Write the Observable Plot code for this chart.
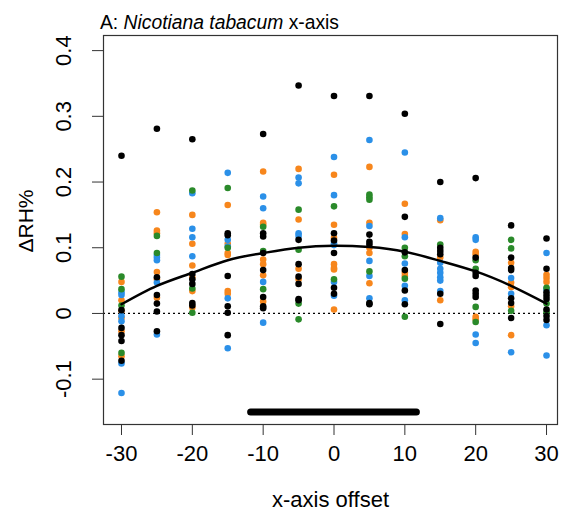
<!DOCTYPE html>
<html>
<head>
<meta charset="utf-8">
<script src="https://cdn.jsdelivr.net/npm/d3@7"></script>
<script src="https://cdn.jsdelivr.net/npm/@observablehq/plot@0.6"></script>
<style>
  html, body { margin: 0; padding: 0; background: #fff; }
  #wrap { position: relative; width: 563px; height: 518px; font-family: "Liberation Sans", Arial, sans-serif; }
  #title { position: absolute; left: 100px; top: 13px; font-size: 19.3px; line-height: 20px; color: #000; white-space: nowrap; }
  #wrap svg { font-family: "Liberation Sans", Arial, sans-serif; }
</style>
</head>
<body>
<div id="wrap">
  <div id="title">A: <i>Nicotiana tabacum</i> x-axis</div>
</div>
<script>
const xOffsets = [-30, -25, -20, -15, -10, -5, 0, 5, 10, 15, 20, 25, 30];

const blackVals = [
  [0.240, 0.005, -0.022, -0.033, -0.042, -0.072],
  [0.281, 0.055, 0.028, 0.015, 0.003, -0.027],
  [0.265, 0.060, 0.052, 0.045, 0.016, 0.012],
  [0.122, 0.119, 0.057, 0.011, 0.001, -0.033],
  [0.273, 0.122, 0.117, 0.092, 0.066, 0.025, 0.011, 0.008],
  [0.347, 0.112, 0.075, 0.056, 0.045, 0.022, 0.020],
  [0.331, 0.122, 0.111, 0.092, 0.039, 0.030],
  [0.331, 0.120, 0.109, 0.105, 0.016, 0.014],
  [0.304, 0.147, 0.093, 0.066, 0.035, 0.014],
  [0.200, 0.100, 0.095, 0.090, 0.030, -0.016],
  [0.206, 0.085, 0.062, 0.057, 0.035, 0.030, 0.025],
  [0.134, 0.085, 0.069, 0.066, 0.023, 0.016, -0.007],
  [0.114, 0.068, 0.032, 0.027, 0.022, 0.006, -0.004, -0.010]
];
const orangeVals = [
  [0.048, 0.020, 0.004, -0.007, -0.027, -0.065],
  [0.154, 0.126, 0.122, 0.063, 0.052, 0.024],
  [0.150, 0.106, 0.073, 0.055, 0.034, 0.009],
  [0.165, 0.106, 0.092, 0.089, 0.034, 0.030],
  [0.216, 0.138, 0.135, 0.082, 0.075, 0.058, 0.018],
  [0.220, 0.143, 0.068, 0.052],
  [0.211, 0.135, 0.115, 0.075, 0.069, 0.067, 0.006],
  [0.223, 0.138, 0.100, 0.092, 0.046],
  [0.167, 0.121, 0.062, 0.057],
  [0.142, 0.085, 0.020],
  [0.094, 0.090, -0.005, -0.009],
  [0.077, 0.047, 0.040, 0.011, -0.033],
  [0.059, 0.054, 0.048]
];
const blueVals = [
  [0.032, 0.028, -0.004, -0.012, -0.076, -0.121],
  [0.089, 0.085, 0.081, 0.047, -0.032],
  [0.183, 0.129, 0.116, 0.087],
  [0.214, 0.112, 0.102, 0.023, -0.053],
  [0.178, 0.160, 0.048, -0.014],
  [0.207, 0.198, 0.122, 0.118],
  [0.238, 0.180, 0.107, 0.104, 0.048, 0.027],
  [0.264, 0.133, 0.080, 0.057, 0.023],
  [0.245, 0.116, 0.076, 0.042, 0.020],
  [0.145, 0.077, 0.068, 0.062, 0.055, 0.050, 0.034],
  [0.116, 0.112, -0.032, -0.045],
  [0.054, 0.030, -0.059],
  [0.092, 0.037, -0.018, -0.064]
];
const greenVals = [
  [0.056, 0.037, 0.012, -0.060],
  [0.118, 0.092],
  [0.187, 0.038, 0.001],
  [0.191, 0.100],
  [0.132, 0.095, 0.037],
  [0.158, 0.097, 0.015, -0.009],
  [0.163, 0.052],
  [0.181, 0.177, 0.173, 0.064],
  [0.100, 0.087, 0.053, -0.005],
  [0.105],
  [0.081, 0.068, 0.010, -0.013],
  [0.112, 0.099, 0.004],
  [0.039, 0.015, 0.002]
];

const curveVals = [0.014, 0.042, 0.062, 0.081, 0.092, 0.100, 0.103, 0.101, 0.094, 0.080, 0.064, 0.042, 0.015];
const barSpan = [-11.7, 11.7];
const barLevel = -0.15;

const xTicks = [-30, -20, -10, 0, 10, 20, 30];
const xTickLabels = ["-30", "-20", "-10", "0", "10", "20", "30"];
const yTicks = [-0.1, 0, 0.1, 0.2, 0.3, 0.4];
const yTickLabels = ["-0.1", "0", "0.1", "0.2", "0.3", "0.4"];

const xTitle = "x-axis offset";
const yTitle = "\u0394RH%";

function flatten(vals) {
  const out = [];
  vals.forEach((col, i) => col.forEach(v => out.push({x: xOffsets[i], y: v})));
  return out;
}
const curveData = xOffsets.map((x, i) => ({x, y: curveVals[i]}));
const barData = [{x1: barSpan[0], x2: barSpan[1], y: barLevel}];
const yTickData = yTicks.map((y, i) => ({y, label: yTickLabels[i]}));
const xTickData = xTicks.map((x, i) => ({x, label: xTickLabels[i]}));

const r = 3.3;
const chart = Plot.plot({
  width: 563,
  height: 518,
  marginLeft: 103,
  marginRight: 6,
  marginTop: 35,
  marginBottom: 94,
  style: {fontFamily: "Liberation Sans, Arial, sans-serif", background: "#fff"},
  x: {domain: [-32.54, 31.55]},
  y: {domain: [-0.169, 0.423]},
  marks: [
    Plot.ruleY([0], {stroke: "#000", strokeWidth: 1.3, strokeDasharray: "2,3"}),
    Plot.dot(flatten(orangeVals), {x: "x", y: "y", r, fill: "#f7861c"}),
    Plot.dot(flatten(blueVals), {x: "x", y: "y", r, fill: "#2b90e8"}),
    Plot.dot(flatten(greenVals), {x: "x", y: "y", r, fill: "#2a8a2a"}),
    Plot.dot(flatten(blackVals), {x: "x", y: "y", r, fill: "#000"}),
    Plot.line(curveData, {x: "x", y: "y", stroke: "#000", strokeWidth: 2.5, curve: "natural"}),
    Plot.ruleY(barData, {y: "y", x1: "x1", x2: "x2", stroke: "#000", strokeWidth: 7, strokeLinecap: "round"}),
    Plot.frame({stroke: "#333", strokeWidth: 1.2}),
    Plot.axisX({ticks: xTicks, tickSize: 11, tickFormat: () => "", label: null, stroke: "#333"}),
    Plot.axisY({ticks: yTicks, tickSize: 11, tickFormat: () => "", label: null, stroke: "#333"}),
    Plot.text(xTickData, {x: "x", text: "label", frameAnchor: "bottom", dy: 29, fontSize: 22, textAnchor: "middle", lineAnchor: "middle", fill: "#000"}),
    Plot.text(yTickData, {y: "y", text: "label", frameAnchor: "left", dx: -40, rotate: -90, fontSize: 22, textAnchor: "middle", lineAnchor: "middle", fill: "#000"}),
    Plot.text([xTitle], {text: d => d, frameAnchor: "bottom", dy: 82, fontSize: 22, textAnchor: "middle", lineAnchor: "bottom", fill: "#000"}),
    Plot.text([yTitle], {text: d => d, frameAnchor: "left", dx: -77, dy: -9, rotate: -90, fontSize: 21, textAnchor: "middle", lineAnchor: "middle", fill: "#000"})
  ]
});
document.getElementById("wrap").appendChild(chart);
</script>
</body>
</html>
